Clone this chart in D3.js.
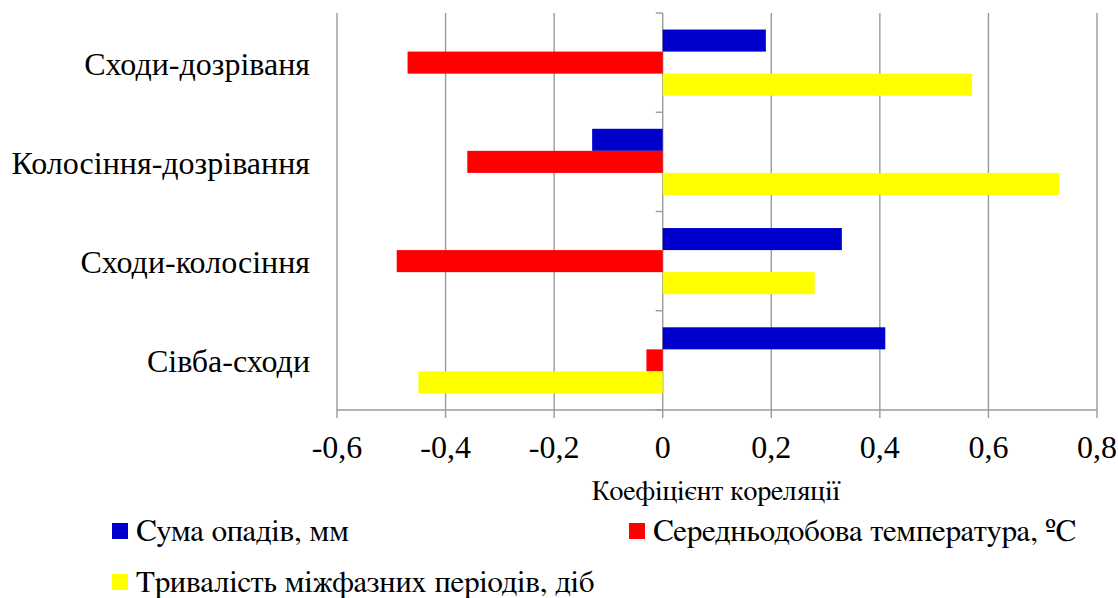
<!DOCTYPE html>
<html><head><meta charset="utf-8">
<script src="https://cdn.jsdelivr.net/npm/d3@7"></script>
<style>
body{margin:0;background:#fff}svg{display:block}
</style>
</head><body><svg id="c" width="1118" height="598"></svg>
<script>
const categories = ["Сходи-дозріваня","Колосіння-дозрівання","Сходи-колосіння","Сівба-сходи"];
const seriesNames = ["Сума опадів, мм","Середньодобова температура, ºC","Тривалість міжфазних періодів, діб"];
const rainfall = [0.19, -0.13, 0.33, 0.41];
const temperature = [-0.47, -0.36, -0.49, -0.03];
const duration = [0.57, 0.73, 0.28, -0.45];
const xTicks = [-0.6,-0.4,-0.2,0,0.2,0.4,0.6,0.8];
const xTickLabels = ["-0,6","-0,4","-0,2","0","0,2","0,4","0,6","0,8"];
const colors = ["#0000CC","#FF0000","#FFFF00"];
const axisTitle = "Коефіцієнт кореляції";

const FONT = "'Liberation Serif'";
const FONT2 = "'FreeSerif'";
const series = [rainfall, temperature, duration];
const svg = d3.select("#c");
const x = d3.scaleLinear().domain([-0.6,0.8]).range([337,1097]);
const y = d3.scaleBand().domain(categories).range([13,410]).paddingInner(0).paddingOuter(0);
const bandInnerPad = 1.5/4.5/2;
const y1 = d3.scaleBand().domain([0,1,2]).range([y.bandwidth()*bandInnerPad, y.bandwidth()*(1-bandInnerPad)]);
const grid = "#9a9a9a";

svg.append("g").selectAll("line").data(xTicks).join("line")
  .attr("x1",d=>x(d)).attr("x2",d=>x(d)).attr("y1",13).attr("y2",418)
  .attr("stroke",grid).attr("stroke-width",1.4);
svg.append("line").attr("x1",x(-0.6)).attr("x2",x(0.8)).attr("y1",410).attr("y2",410).attr("stroke",grid).attr("stroke-width",1.4);
const bounds = [13].concat(categories.map(c=>y(c)+y.bandwidth()));
svg.append("g").selectAll("line").data(bounds).join("line")
  .attr("x1",x(0)-7).attr("x2",x(0)).attr("y1",d=>d).attr("y2",d=>d)
  .attr("stroke",grid).attr("stroke-width",1.4);

const g = svg.append("g");
categories.forEach((c,i)=>{
  series.forEach((s,k)=>{
    const v = s[i];
    g.append("rect")
      .attr("x", x(Math.min(0,v))).attr("width", Math.abs(x(v)-x(0)))
      .attr("y", y(c)+y1(k)).attr("height", y1.bandwidth())
      .attr("fill", colors[k]);
  });
});

const textG = svg.append("g");
textG.selectAll("text.tick").data(xTicks).join("text").attr("class","tick")
  .style("font-family",FONT).style("font-size","32px")
  .attr("x",d=>x(d)).attr("y",458).attr("text-anchor","middle")
  .text((d,i)=>xTickLabels[i]);
textG.selectAll("text.cat").data(categories).join("text").attr("class","cat")
  .style("font-family",FONT).style("font-size","32px")
  .attr("x",310).attr("y",d=>y(d)+y.bandwidth()/2+12).attr("text-anchor","end")
  .text(d=>d);

textG.append("text").attr("x",716).attr("y",500).attr("text-anchor","middle")
  .style("font-family",FONT2).style("font-size","28px").text(axisTitle);

const legendPos = [[112,531],[629,531],[112,582]];
svg.append("g").selectAll("rect").data(seriesNames).join("rect")
  .attr("x",(d,k)=>legendPos[k][0]).attr("y",(d,k)=>legendPos[k][1]-8)
  .attr("width",16).attr("height",16).attr("fill",(d,k)=>colors[k]);
textG.selectAll("text.leg").data(seriesNames).join("text").attr("class","leg")
  .style("font-family",FONT2).style("font-size","31px")
  .attr("x",(d,k)=>legendPos[k][0]+24).attr("y",(d,k)=>legendPos[k][1]+10)
  .text(d=>d);
</script></body></html>
